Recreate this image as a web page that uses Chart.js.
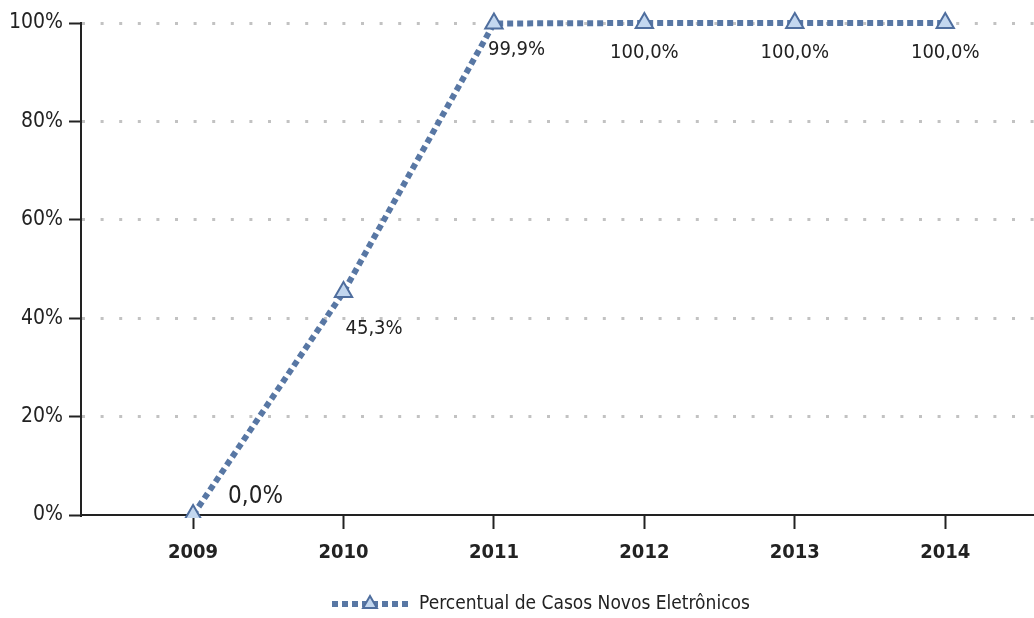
<!DOCTYPE html>
<html>
<head>
<meta charset="utf-8">
<script src="https://cdn.jsdelivr.net/npm/chart.js@4.4.1/dist/chart.umd.min.js"></script>
<style>
  html, body { margin: 0; padding: 0; background: #ffffff; overflow: hidden; }
  #wrap { width: 1034px; height: 618px; position: relative; overflow: hidden; }
  #c { display: block; }
</style>
</head>
<body>
<div id="wrap"><canvas id="c" width="1046" height="618"></canvas></div>
<script>
// ---- data ----
const years = [2009, 2010, 2011, 2012, 2013, 2014];
const percentual = [0.0, 45.3, 99.9, 100.0, 100.0, 100.0];
const valueLabels = ['0,0%', '45,3%', '99,9%', '100,0%', '100,0%', '100,0%'];
const yTicks = [0, 20, 40, 60, 80, 100];
const seriesName = 'Percentual de Casos Novos Eletrônicos';

// ---- style ----
const FONT = "'Liberation Sans Narrow', 'Arial Narrow', 'DejaVu Sans Condensed', sans-serif";
const LINE_COLOR = '#5877a4';
const POINT_FILL = '#c3d7ef';
const POINT_BORDER = '#4f6e9e';
const TEXT = '#222222';
const DASH = [6, 4];
// label offsets (dx, dy) relative to the point, plus alignment and size
const labelStyle = [
  { dx: 35, dy: -18, align: 'left', size: 24 },
  { dx: 2, dy: 37, align: 'left', size: 20 },
  { dx: -6, dy: 26, align: 'left', size: 20 },
  { dx: 0, dy: 30, align: 'center', size: 20 },
  { dx: 0, dy: 30, align: 'center', size: 20 },
  { dx: 0, dy: 30, align: 'center', size: 20 }
];

const valueLabelPlugin = {
  id: 'valueLabels',
  afterDatasetsDraw(chart) {
    const meta = chart.getDatasetMeta(0);
    const ctx = chart.ctx;
    ctx.save();
    ctx.fillStyle = TEXT;
    ctx.textBaseline = 'middle';
    meta.data.forEach((pt, i) => {
      const s = labelStyle[i];
      ctx.font = s.size + 'px ' + FONT;
      ctx.textAlign = s.align;
      ctx.fillText(valueLabels[i], pt.x + s.dx, pt.y + s.dy);
    });
    ctx.restore();
  }
};

const legendPlugin = {
  id: 'customLegend',
  afterDraw(chart) {
    const ctx = chart.ctx;
    const y = 604;
    const x0 = 332, x1 = 409;
    ctx.save();
    ctx.strokeStyle = LINE_COLOR;
    ctx.lineWidth = 6;
    ctx.setLineDash(DASH);
    ctx.beginPath();
    ctx.moveTo(x0, y);
    ctx.lineTo(x1, y);
    ctx.stroke();
    ctx.setLineDash([]);
    // triangle marker
    const cx = 370, r = 8;
    ctx.beginPath();
    ctx.moveTo(cx, y - r);
    ctx.lineTo(cx + r * Math.sin(Math.PI / 3), y + r / 2);
    ctx.lineTo(cx - r * Math.sin(Math.PI / 3), y + r / 2);
    ctx.closePath();
    ctx.fillStyle = POINT_FILL;
    ctx.fill();
    ctx.lineWidth = 2;
    ctx.strokeStyle = POINT_BORDER;
    ctx.stroke();
    ctx.fillStyle = TEXT;
    ctx.font = '19px ' + FONT;
    ctx.textAlign = 'left';
    ctx.textBaseline = 'middle';
    ctx.fillText(seriesName, 419, y);
    ctx.restore();
  }
};

new Chart(document.getElementById('c'), {
  type: 'line',
  data: {
    datasets: [{
      label: seriesName,
      data: years.map((yr, i) => ({ x: yr, y: percentual[i] })),
      borderColor: LINE_COLOR,
      borderWidth: 6,
      borderDash: DASH,
      borderCapStyle: 'butt',
      fill: false,
      tension: 0,
      pointStyle: 'triangle',
      pointRadius: 10,
      pointBackgroundColor: POINT_FILL,
      pointBorderColor: POINT_BORDER,
      pointBorderWidth: 2,
      clip: { left: 20, top: 20, right: 20, bottom: 3 }
    }]
  },
  options: {
    responsive: false,
    animation: false,
    devicePixelRatio: 1,
    layout: { padding: { top: 23, right: 0, left: 0, bottom: 0 } },
    plugins: {
      legend: { display: false },
      tooltip: { enabled: false }
    },
    scales: {
      x: {
        type: 'linear',
        min: 2008.255,
        max: 2014.59,
        afterBuildTicks(scale) { scale.ticks = years.map(v => ({ value: v })); },
        afterFit(scale) { scale.height = 103; scale.paddingLeft = 0; scale.paddingRight = 0; },
        grid: {
          drawOnChartArea: false,
          drawTicks: true,
          tickLength: 14,
          tickColor: TEXT,
          tickWidth: 2,
          tickBorderDash: []
        },
        border: { display: true, color: TEXT, width: 2 },
        ticks: {
          color: TEXT,
          padding: 12,
          font: { family: FONT, size: 20, weight: 'bold' },
          callback: (v) => String(v),
          maxRotation: 0,
          autoSkip: false
        }
      },
      y: {
        min: 0,
        max: 100,
        afterBuildTicks(scale) { scale.ticks = yTicks.map(v => ({ value: v })); },
        afterFit(scale) { scale.width = 81; },
        grid: {
          color: (c) => (c.tick && c.tick.value === 0) ? 'rgba(0,0,0,0)' : '#c2c2c2',
          lineWidth: 3,
          drawTicks: true,
          tickLength: 12,
          tickColor: TEXT,
          tickWidth: 2,
          tickBorderDash: []
        },
        border: { display: true, color: TEXT, width: 2, dash: [3, 15.6] },
        ticks: {
          color: TEXT,
          padding: 6,
          font: { family: FONT, size: 21 },
          callback: (v) => v + '%'
        }
      }
    }
  },
  plugins: [valueLabelPlugin, legendPlugin]
});
</script>
</body>
</html>
